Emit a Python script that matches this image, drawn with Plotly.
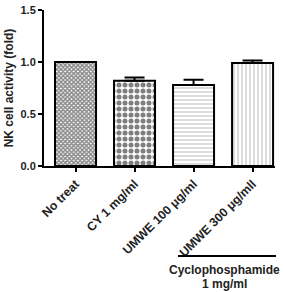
import plotly.graph_objects as go

categories = ["No treat", "CY 1 mg/ml", "UMWE 100 μg/ml", "UMWE 300 μg/mll"]
values = [1.0, 0.82, 0.78, 0.99]
errors = [0.0, 0.03, 0.05, 0.025]
y_ticks = [0.0, 0.5, 1.0, 1.5]
y_tick_labels = ["0.0", "0.5", "1.0", "1.5"]

shapes_ = ["x", ".", "-", "|"]
fg = ["#111111", "#000000", "#888888", "#888888"]
sizes = [3, 6, 4, 4]
solid = [0.7, 0.55, 0.3, 0.3]

fig = go.Figure()
fig.add_trace(go.Bar(
    x=list(range(len(categories))),
    y=values,
    marker=dict(
        color="white",
        line=dict(color="black", width=2),
        pattern=dict(shape=shapes_, fgcolor=fg, bgcolor="white", size=sizes, solidity=solid),
    ),
    error_y=dict(type="data", symmetric=False, array=errors, arrayminus=[0]*4,
                 color="black", thickness=2, width=10),
    showlegend=False,
))

font = "Liberation Sans, Arial, sans-serif"
fig.update_layout(
    width=284, height=292,
    margin=dict(l=44, r=9, t=10, b=126),
    plot_bgcolor="white", paper_bgcolor="white",
    bargap=0.305,
    font=dict(family=font, size=11, color="#222"),
    xaxis=dict(
        tickmode="array", tickvals=list(range(len(categories))), ticktext=categories,
        tickangle=-45, range=[-0.534, 3.38], automargin=False,
        showline=True, linecolor="black", linewidth=2,
        ticks="outside", ticklen=4, tickwidth=1.5, tickcolor="black",
        tickfont=dict(family=font, size=12.3, weight="bold", color="#222"),
        showgrid=False, zeroline=False,
    ),
    yaxis=dict(
        range=[0, 1.5], tickmode="array", tickvals=y_ticks, ticktext=y_tick_labels,
        automargin=False,
        showline=True, linecolor="black", linewidth=2,
        ticks="outside", ticklen=4, tickwidth=2, tickcolor="black",
        tickfont=dict(family=font, size=11, weight="bold", color="#222"),
        title=dict(text="NK cell activity (fold)", font=dict(family=font, size=12, weight="bold", color="#222"), standoff=4),
        showgrid=False, zeroline=False,
    ),
    shapes=[dict(type="line", xref="paper", yref="paper", x0=0.58, x1=1.004,
                 y0=-0.577, y1=-0.577, line=dict(color="black", width=2))],
    annotations=[
        dict(text="Cyclophosphamide", xref="paper", yref="paper",
             x=0.78, y=-0.668, xanchor="center", yanchor="middle", showarrow=False,
             font=dict(family=font, size=12, weight="bold", color="#222")),
        dict(text="1 mg/ml", xref="paper", yref="paper",
             x=0.78, y=-0.758, xanchor="center", yanchor="middle", showarrow=False,
             font=dict(family=font, size=12, weight="bold", color="#222")),
    ],
)

fig.write_html("out.html")
